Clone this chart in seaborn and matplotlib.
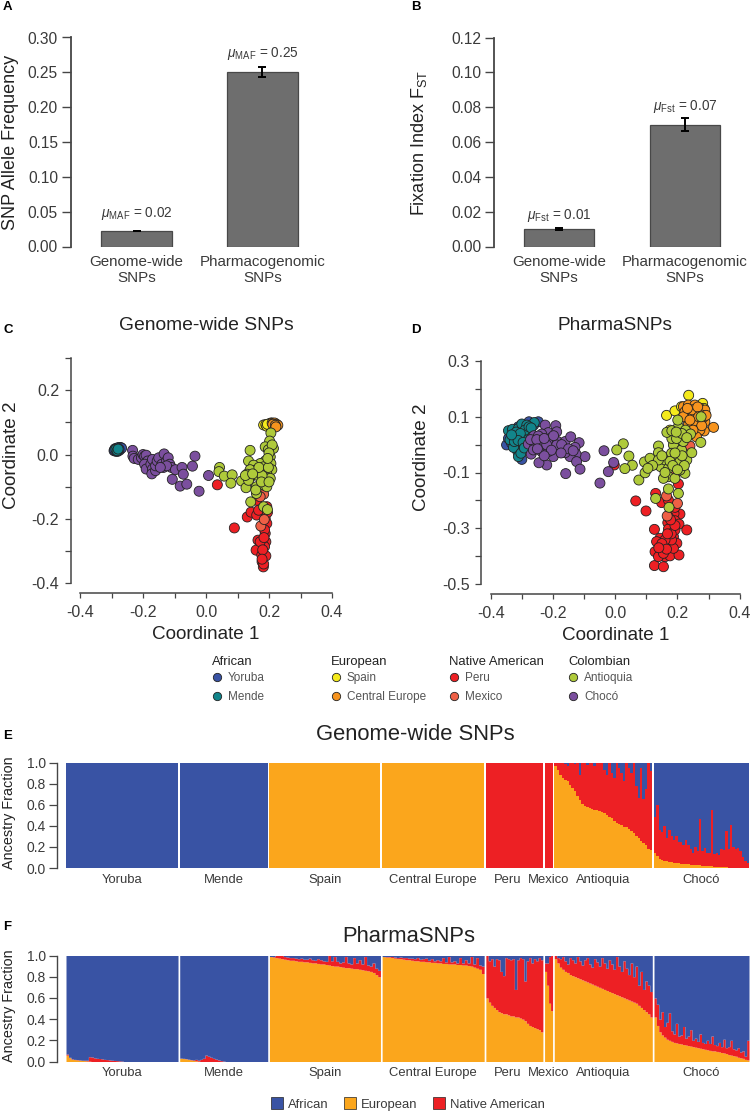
import matplotlib
matplotlib.use("Agg")
import matplotlib.pyplot as plt
import numpy as np
import pandas as pd
import seaborn as sns
from matplotlib.lines import Line2D
from matplotlib.patches import Patch

W, H = 750, 1112
TEXT = "#3a3a3a"
SPINE = "#454545"

# panels A and B
bar_labels = ["Genome-wide\nSNPs", "Pharmacogenomic\nSNPs"]
maf_means = [0.022, 0.251]
maf_errors = [0.0004, 0.0072]
maf_texts = ["0.02", "0.25"]
fst_means = [0.010, 0.070]
fst_errors = [0.0005, 0.0035]
fst_texts = ["0.01", "0.07"]

# panel C, coordinates
c_yoruba = [(-0.292, 0.012), (-0.289, 0.018), (-0.286, 0.010), (-0.283, 0.020), (-0.280, 0.010), (-0.277, 0.022),
            (-0.274, 0.014), (-0.271, 0.022), (-0.268, 0.020), (-0.290, 0.014), (-0.284, 0.015), (-0.276, 0.017)]
c_mende = [(-0.286, 0.016), (-0.282, 0.012), (-0.279, 0.017)]
c_spain = [(0.183, 0.092), (0.190, 0.093), (0.193, 0.088), (0.200, 0.092), (0.202, 0.096), (0.206, 0.098), (0.195, 0.094)]
c_ceu = [(0.210, 0.098), (0.214, 0.097), (0.218, 0.098), (0.224, 0.094), (0.228, 0.091), (0.212, 0.094), (0.220, 0.091), (0.222, 0.086)]
c_peru = [(0.036, -0.094), (0.090, -0.228), (0.131, -0.194), (0.143, -0.179), (0.161, -0.188), (0.167, -0.173),
          (0.161, -0.142), (0.193, -0.162), (0.188, -0.199), (0.193, -0.214), (0.188, -0.245), (0.165, -0.266),
          (0.190, -0.271), (0.159, -0.297), (0.186, -0.286), (0.177, -0.312), (0.190, -0.315), (0.178, -0.333),
          (0.182, -0.349), (0.172, -0.271), (0.180, -0.296), (0.183, -0.340), (0.186, -0.234), (0.195, -0.180),
          (0.178, -0.325), (0.184, -0.258)]
c_mexico = [(0.183, -0.123), (0.174, -0.222), (0.185, -0.202), (0.172, -0.131)]
c_antioquia = [(0.140, 0.013), (0.135, -0.020), (0.043, -0.040), (0.041, -0.053), (0.058, -0.067), (0.083, -0.063),
               (0.079, -0.089), (0.113, -0.082), (0.127, -0.103), (0.142, -0.147), (0.160, -0.100), (0.160, -0.121),
               (0.183, -0.162), (0.195, -0.171), (0.206, 0.067), (0.202, 0.042), (0.188, 0.024), (0.214, 0.019),
               (0.198, 0.015), (0.204, -0.007), (0.188, -0.020), (0.206, -0.028), (0.209, -0.047), (0.172, -0.028),
               (0.151, -0.033), (0.156, -0.049), (0.140, -0.047), (0.130, -0.061), (0.142, -0.069), (0.135, -0.080),
               (0.172, -0.051), (0.183, -0.038), (0.193, -0.059), (0.185, -0.069), (0.204, -0.074), (0.191, -0.090),
               (0.183, -0.095), (0.161, -0.064), (0.193, -0.100), (0.158, -0.110), (0.210, 0.030), (0.200, 0.005),
               (0.178, -0.065), (0.168, -0.040), (0.198, -0.040), (0.125, -0.065), (0.148, -0.060), (0.196, -0.012),
               (0.176, -0.085), (0.200, -0.085)]
c_choco = [(-0.233, 0.013), (-0.232, -0.005), (-0.228, -0.012), (-0.215, -0.015), (-0.205, -0.010), (-0.200, 0.000),
           (-0.195, -0.005), (-0.190, -0.002), (-0.185, -0.020), (-0.195, -0.030), (-0.190, -0.045), (-0.175, -0.030),
           (-0.170, -0.015), (-0.170, -0.045), (-0.172, -0.060), (-0.160, -0.050), (-0.160, -0.035), (-0.155, -0.020),
           (-0.150, -0.010), (-0.140, -0.030), (-0.135, -0.040), (-0.133, 0.002), (-0.125, -0.020), (-0.120, -0.010),
           (-0.115, -0.030), (-0.110, -0.040), (-0.125, -0.035), (-0.145, -0.040), (-0.097, -0.047), (-0.076, -0.040),
           (-0.035, -0.005), (-0.043, -0.036), (-0.072, -0.061), (-0.107, -0.077), (-0.082, -0.098), (-0.061, -0.092),
           (-0.022, -0.114), (0.008, -0.065)]

# panel D, coordinates
d_yoruba = [(-0.349, -0.001), (-0.277, 0.082), (-0.247, 0.082), (-0.343, 0.022), (-0.300, -0.053), (-0.322, 0.040),
            (-0.290, 0.005), (-0.311, 0.064), (-0.333, 0.005), (-0.262, 0.070)]
d_mende = [(-0.343, 0.050), (-0.330, 0.055), (-0.311, 0.058), (-0.300, 0.074), (-0.260, 0.079), (-0.284, 0.070),
           (-0.319, 0.031), (-0.338, 0.017), (-0.306, -0.001), (-0.313, -0.025), (-0.311, -0.043), (-0.327, -0.010),
           (-0.295, 0.038), (-0.290, 0.052), (-0.300, 0.022), (-0.324, 0.011), (-0.284, -0.019), (-0.303, -0.031),
           (-0.277, 0.064), (-0.318, 0.045), (-0.305, 0.040), (-0.312, 0.015), (-0.296, 0.008), (-0.292, -0.012),
           (-0.333, 0.035), (-0.270, 0.060)]
d_spain = [(0.165, 0.105), (0.192, 0.121), (0.236, 0.177), (0.281, 0.148), (0.289, 0.112), (0.176, 0.052), (0.213, 0.136),
           (0.285, 0.130), (0.272, 0.088), (0.225, 0.125)]
d_ceu = [(0.316, 0.062), (0.286, 0.049), (0.219, 0.136), (0.235, 0.142), (0.256, 0.142), (0.272, 0.130), (0.288, 0.124),
         (0.224, 0.118), (0.240, 0.112), (0.261, 0.118), (0.278, 0.106), (0.230, 0.094), (0.246, 0.082), (0.267, 0.082),
         (0.288, 0.082), (0.219, 0.100), (0.250, 0.100), (0.235, 0.070), (0.261, 0.064), (0.272, 0.052), (0.261, 0.028),
         (0.248, 0.125), (0.283, 0.098), (0.232, 0.130), (0.265, 0.135), (0.255, 0.085), (0.278, 0.068), (0.268, 0.100),
         (0.240, 0.088), (0.250, 0.052), (0.292, 0.105)]
d_peru = [(0.130, -0.175), (0.066, -0.202), (0.099, -0.238), (0.149, -0.208), (0.171, -0.199), (0.208, -0.249),
          (0.189, -0.247), (0.169, -0.280), (0.192, -0.273), (0.205, -0.285), (0.230, -0.306), (0.126, -0.304),
          (0.171, -0.303), (0.144, -0.336), (0.187, -0.330), (0.128, -0.384), (0.147, -0.369), (0.160, -0.402),
          (0.176, -0.399), (0.205, -0.396), (0.126, -0.434), (0.155, -0.438), (0.171, -0.360), (0.198, -0.354),
          (0.187, -0.372), (0.139, -0.402), (0.155, -0.390), (0.181, -0.342), (0.160, -0.342), (0.203, -0.141),
          (-0.003, -0.073), (0.192, -0.306), (0.171, -0.259), (0.133, -0.348), (0.150, -0.355), (0.165, -0.375),
          (0.180, -0.320), (0.192, -0.290), (0.178, -0.270), (0.140, -0.370), (0.168, -0.320), (0.192, -0.225)]
d_mexico = [(0.165, -0.184), (0.200, -0.211), (0.167, -0.256), (0.240, -0.005), (0.195, -0.101)]
d_antioquia = [(0.026, 0.003), (0.005, -0.019), (0.044, -0.041), (0.055, -0.074), (0.031, -0.086), (0.076, -0.127),
               (0.096, -0.101), (0.094, -0.062), (0.112, -0.049), (0.131, -0.070), (0.146, -0.079), (0.139, -0.005),
               (0.139, -0.029), (0.160, -0.055), (0.171, -0.085), (0.171, -0.115), (0.155, -0.121), (0.192, -0.121),
               (0.224, -0.103), (0.208, -0.091), (0.230, -0.055), (0.246, -0.029), (0.203, -0.007), (0.187, -0.001),
               (0.182, 0.022), (0.166, 0.044), (0.203, 0.064), (0.201, 0.088), (0.226, 0.052), (0.242, 0.038),
               (0.182, 0.050), (0.276, 0.100), (0.275, 0.008), (0.171, -0.159), (0.203, -0.175), (0.130, -0.193),
               (0.173, -0.225), (0.197, -0.055), (0.181, -0.031), (0.213, -0.019), (0.219, 0.011), (0.197, 0.022),
               (0.139, -0.055), (0.176, -0.060), (0.208, -0.061), (0.150, -0.040), (0.120, -0.075), (0.105, -0.085),
               (0.185, -0.075), (0.222, -0.075), (0.215, -0.040), (0.192, -0.030), (0.214, 0.040), (0.196, 0.045),
               (0.230, 0.025), (0.160, -0.100), (0.200, -0.090)]
d_choco = [(-0.225, 0.070), (-0.191, 0.068), (-0.215, 0.043), (-0.188, 0.046), (-0.261, 0.032), (-0.236, 0.038),
           (-0.209, 0.022), (-0.242, 0.011), (-0.279, 0.002), (-0.258, -0.001), (-0.231, -0.005), (-0.206, 0.005),
           (-0.185, 0.011), (-0.161, 0.011), (-0.143, 0.028), (-0.116, 0.007), (-0.129, -0.010), (-0.097, -0.043),
           (-0.126, -0.034), (-0.145, -0.043), (-0.161, -0.029), (-0.183, -0.019), (-0.199, -0.043), (-0.220, -0.073),
           (-0.245, -0.065), (-0.270, -0.034), (-0.263, -0.019), (-0.236, -0.025), (-0.215, -0.025), (-0.188, -0.001),
           (-0.124, -0.061), (-0.113, -0.088), (-0.159, -0.104), (-0.036, -0.022), (-0.005, -0.064), (-0.022, -0.097),
           (-0.049, -0.138), (-0.220, -0.001), (-0.247, 0.031), (-0.272, 0.018), (-0.252, 0.018), (-0.228, 0.022),
           (-0.198, 0.032), (-0.172, 0.000), (-0.150, -0.015), (-0.135, -0.022), (-0.205, -0.020), (-0.228, -0.040),
           (-0.250, -0.015), (-0.174, -0.030)]

populations = ["Yoruba", "Mende", "Spain", "Central Europe", "Peru", "Mexico", "Antioquia", "Chocó"]
pop_colors = ["#3953a4", "#12858b", "#f5ea1c", "#f7941e", "#ed2024", "#ee5f45", "#afca3a", "#7b4f9e"]
legend_groups = ["African", "European", "Native American", "Colombian"]

# ancestry columns per population: top of the European band, top of the Native American band
group_widths = [112, 88, 111, 102, 57, 8, 98, 95]
ancestries = ["African", "Native American", "European"]
ancestry_colors = ["#3953a4", "#ed2024", "#fba61c"]

e_eu = {
    "Yoruba": [0.0], "Mende": [0.0], "Spain": [0.992], "Central Europe": [0.992], "Peru": [0.0], "Mexico": [0.0],
    "Antioquia": [.97, .93, .88, .85, .83, .82, .79, .76, .73, .68, .64, .61, .59, .58, .57, .56, .55, .55, .54, .53,
                  .52, .50, .48, .47, .45, .43, .42, .41, .39, .39, .37, .35, .33, .30, .28, .26, .24, .22, .18, .17],
    "Chocó": [.14, .11, .09, .08, .07, .065, .06, .055, .05, .05, .045, .04, .04, .035, .035, .03, .03, .03, .025, .025,
              .02, .02, .02, .015, .015, .01, .01, .01, .005, .005, .005, 0, 0, 0, 0, 0, 0, 0, 0, 0],
}
e_top = {
    "Yoruba": [0.0], "Mende": [0.0], "Spain": [0.992], "Central Europe": [0.992], "Peru": [1.0], "Mexico": [1.0],
    "Antioquia": [1, 1, 1, 1, .99, .97, 1, 1, .99, 1, .88, 1, 1, .98, 1, 1, .97, 1, 1, 1,
                  .93, .88, 1, .9, .85, 1, .95, .9, .82, 1, .95, .9, 1, .78, .66, .95, .65, .75, 1, .92],
    "Chocó": [.48, .6, .36, .34, .40, .28, .36, .30, .27, .30, .25, .25, .22, .27, .22, .18, .14, .2, .16, .46,
              .16, .19, .14, .14, .55, .13, .14, .12, .18, .17, .35, .18, .41, .2, .18, .19, .16, .1, .07, .05],
}
f_eu = {
    "Yoruba": [.06, .035, .02, .018, .015, .012, .01, .008, .005, .003] + [0.0] * 35,
    "Mende": [.03, .028, .025, .02, .015, .01, .006, .003] + [0.0] * 27,
    "Spain": [.99, .985, .98, .975, .97, .965, .96, .955, .955, .95, .945, .945, .94, .94, .935, .93, .93, .925, .92, .92,
              .915, .91, .905, .90, .90, .895, .89, .885, .885, .88, .875, .875, .87, .865, .86, .855, .85, .84, .82, .80],
    "Central Europe": [.99, .985, .985, .98, .975, .97, .97, .965, .96, .96, .955, .95, .95, .945, .945, .94, .94, .935,
                       .935, .93, .93, .925, .925, .92, .92, .92, .915, .915, .91, .91, .905, .90, .89, .88, .87, .83],
    "Peru": [.60, .56, .53, .51, .49, .47, .46, .45, .45, .44, .43, .43, .42, .42, .41, .40, .385, .36, .34, .33, .32, .31, .30, .28],
    "Mexico": [.85, .72, .55, .48],
    "Antioquia": [.97, .93, .89, .87, .85, .84, .82, .81, .80, .79, .78, .77, .76, .75, .74, .73, .72, .71, .70, .69,
                  .68, .67, .66, .65, .64, .63, .62, .61, .60, .59, .58, .57, .56, .55, .53, .51, .49, .47, .45, .42],
    "Chocó": [.42, .34, .28, .25, .23, .21, .20, .19, .18, .175, .17, .165, .16, .155, .15, .145, .14, .135, .13, .125,
              .12, .115, .11, .105, .10, .10, .095, .09, .085, .08, .075, .065, .06, .055, .05, .04, .035, .03, .02, .015],
}
f_top = {
    "Yoruba": [.07, .04, .025, .02, .018, .015, .012, .012, .012, .045, .042, .035, .03, .028, .025, .02, .018, .015, .012, .01,
               .008, .006, .004] + [0.0] * 22,
    "Mende": [.032, .03, .027, .022, .018, .015, .02, .012, .02, .03, .06, .05, .04, .03, .022, .015, .008, .004] + [0.0] * 17,
    "Spain": [.99, .99, 1, 1, 1, .99, .985, .98, .98, .975, .97, .975, .965, .965, .975, .96, .955, .97, .96, .95,
              .945, 1, .95, .99, .945, .93, .94, .99, .93, .92, .98, .93, .96, .92, .99, .91, .90, .93, .88, .86],
    "Central Europe": [.99, .99, .99, .99, .985, .98, .985, .98, .98, .975, .975, .97, .98, .965, .97, .975, .955, .97,
                       .95, .96, .95, .98, .94, .99, .94, .95, .93, .98, .93, .96, .93, .99, .92, .98, .91, .90],
    "Peru": [1, .95, .97, .9, .97, .96, .85, .81, .98, .97, .96, .97, .68, .96, .98, .97, .76, .95, .98, .93, .97, .95, .98, .96],
    "Mexico": [.93, .93, .99, 1],
    "Antioquia": [1, .98, .97, .99, .95, .92, .98, .96, .93, .99, .95, .91, .96, .98, .92, .89, .97, .94, .90, .98,
                  .93, .88, .96, .92, .87, .99, .90, .85, .95, .88, .82, .93, .80, .90, .72, .85, .68, .76, .72, .66],
    "Chocó": [.60, .54, .40, .47, .33, .37, .46, .29, .26, .36, .24, .25, .33, .22, .24, .30, .2, .22, .19, .26,
              .18, .17, .2, .17, .24, .16, .15, .18, .14, .21, .13, .14, .2, .12, .11, .13, .09, .1, .05, .2],
}


def add_axes(fig, left, right, top, bottom):
    """axes placed by reference pixels"""
    return fig.add_axes([left / W, 1 - bottom / H, (right - left) / W, (bottom - top) / H])


def label_y(ax, text, x_px, y_px, size):
    ax.set_ylabel(text, fontsize=size, color="#222222")
    ax.yaxis.set_label_coords(x_px / W, 1 - y_px / H, transform=ax.figure.transFigure)


def plot_bars(ax, means, errors, texts, sub, ymax, yticks, offsets):
    sns.barplot(x=bar_labels, y=means, ax=ax, color="#6e6e6e", saturation=1, width=0.563,
                edgecolor="#484848", linewidth=0.9, errorbar=None)
    ax.errorbar([0, 1], means, yerr=errors, fmt="none", ecolor="black", elinewidth=1.4, capsize=2.6, capthick=1.4)
    for i, value in enumerate(means):
        ax.annotate(rf"$\mu_{{\mathrm{{{sub}}}}}$ = {texts[i]}", (i, value), xytext=(0, offsets[i]),
                    textcoords="offset points", ha="center", va="baseline", fontsize=9.8, color=TEXT)
    ax.set_ylim(0, ymax)
    ax.set_yticks(yticks)
    ax.set_yticklabels([f"{t:.2f}" for t in yticks])
    ax.tick_params(axis="y", length=6.5, width=1, color=SPINE, labelsize=11.2, labelcolor=TEXT, pad=2.5)
    ax.tick_params(axis="x", length=0, labelsize=10.9, labelcolor=TEXT, pad=6)
    sns.despine(ax=ax, bottom=True)
    ax.spines["left"].set_color(SPINE)
    ax.spines["left"].set_linewidth(1.3)


def plot_scatter(ax, point_sets, xticks, yticks, ylim, xlabels, ylabels, offset):
    frames = [pd.DataFrame(points, columns=["x", "y"]).assign(population=name)
              for name, points in zip(populations, point_sets)]
    sns.scatterplot(data=pd.concat(frames), x="x", y="y", hue="population", hue_order=populations,
                    palette=pop_colors, s=52, edgecolor="#222222", linewidth=0.6, legend=False,
                    ax=ax, clip_on=False)
    ax.set_xlim(-0.4, 0.4)
    ax.set_ylim(*ylim)
    ax.set_xticks(xticks)
    ax.set_xticklabels(xlabels)
    ax.set_yticks(yticks)
    ax.set_yticklabels(ylabels)
    ax.tick_params(axis="x", length=3.5, width=0.9, color=SPINE, labelsize=11.5, labelcolor=TEXT, pad=5)
    ax.tick_params(axis="y", length=4.3, width=0.9, color=SPINE, labelsize=11.5, labelcolor=TEXT, pad=4)
    sns.despine(ax=ax, offset=offset)
    for side in ["left", "bottom"]:
        ax.spines[side].set_color(SPINE)
        ax.spines[side].set_linewidth(1.1)


def ancestry_frame(eu_columns, top_columns):
    rows = []
    edges = []
    left = 0.0
    for name, width in zip(populations, group_widths):
        eu = np.array(eu_columns[name], dtype=float)
        top = np.array(top_columns[name], dtype=float)
        group_edges = np.linspace(left, left + width, len(eu) + 1)
        centers = (group_edges[:-1] + group_edges[1:]) / 2
        edges.extend(group_edges.tolist())
        rows.append(pd.DataFrame({"x": centers, "ancestry": "European", "fraction": eu}))
        rows.append(pd.DataFrame({"x": centers, "ancestry": "Native American", "fraction": top - eu}))
        rows.append(pd.DataFrame({"x": centers, "ancestry": "African", "fraction": 1 - top}))
        left += width + 1.7
    return pd.concat(rows, ignore_index=True), edges


def plot_ancestry(ax, eu_columns, top_columns):
    frame, edges = ancestry_frame(eu_columns, top_columns)
    sns.histplot(data=frame, x="x", weights="fraction", hue="ancestry", hue_order=ancestries,
                 palette=ancestry_colors, bins=edges, multiple="stack", element="step",
                 linewidth=0, alpha=1, legend=False, ax=ax)
    ax.set_xlim(edges[0], edges[-1])
    ax.set_ylim(0, 1)
    ax.set_yticks([0, 0.2, 0.4, 0.6, 0.8, 1.0])
    starts = np.cumsum([0] + [w + 1.7 for w in group_widths[:-1]])
    centers = starts + np.array(group_widths) / 2
    centers[4] -= 6.5  # Peru label sits left of its block, clear of Mexico
    ax.set_xticks(centers)
    ax.set_xticklabels(populations)
    ax.set_xlabel("")
    ax.set_ylabel("")
    ax.tick_params(axis="x", length=0, labelsize=9.4, labelcolor=TEXT, pad=4)
    ax.tick_params(axis="y", length=6, width=0.9, color=SPINE, labelsize=10, labelcolor=TEXT, pad=1.5)
    sns.despine(ax=ax, bottom=True)
    ax.spines["left"].set_position(("outward", 6.8))
    ax.spines["left"].set_color(SPINE)
    ax.spines["left"].set_linewidth(1.0)


def main():
    sns.set_theme(style="ticks")
    plt.rcParams["font.family"] = ["Liberation Sans", "DejaVu Sans"]
    plt.rcParams["mathtext.fontset"] = "custom"
    plt.rcParams["mathtext.rm"] = "Liberation Sans"
    plt.rcParams["mathtext.it"] = "Liberation Sans:italic"

    fig = plt.figure(figsize=(W / 100, H / 100), dpi=100)

    ax_a = add_axes(fig, 70.5, 330, 37.5, 246.5)
    plot_bars(ax_a, maf_means, maf_errors, maf_texts, "MAF", 0.30, [0, .05, .10, .15, .20, .25, .30], [10.5, 10.5])
    ax_a.set_xlim(-0.524, 1.536)
    label_y(ax_a, "SNP Allele Frequency", 19, 142, 13)

    ax_b = add_axes(fig, 494, 745, 37.5, 246.5)
    plot_bars(ax_b, fst_means, fst_errors, fst_texts, "Fst", 0.12, [0, .02, .04, .06, .08, .10, .12], [7.5, 10.5])
    ax_b.set_xlim(-0.516, 1.476)
    label_y(ax_b, r"Fixation Index F$_{\mathrm{ST}}$", 429, 143, 13)

    ticks_x = [-.4, -.3, -.2, -.1, 0, .1, .2, .3, .4]
    labels_x = ["-0.4", "", "-0.2", "", "0.0", "", "0.2", "", "0.4"]

    ax_c = add_axes(fig, 80, 332, 358, 583.3)
    plot_scatter(ax_c, [c_yoruba, c_mende, c_spain, c_ceu, c_peru, c_mexico, c_antioquia, c_choco],
                 ticks_x, [-.4, -.3, -.2, -.1, 0, .1, .2, .3], (-.4, .3), labels_x,
                 ["-0.4", "", "-0.2", "", "0.0", "", "0.2", ""], 6.8)
    ax_c.set_xlabel("Coordinate 1", fontsize=13.6, color="#222222", labelpad=5)
    label_y(ax_c, "Coordinate 2", 20, 455, 13.6)

    ax_d = add_axes(fig, 490.7, 739.7, 361, 584)
    plot_scatter(ax_d, [d_yoruba, d_mende, d_spain, d_ceu, d_peru, d_mexico, d_antioquia, d_choco],
                 ticks_x, [-.5, -.4, -.3, -.2, -.1, 0, .1, .2, .3], (-.5, .3), labels_x,
                 ["-0.5", "", "-0.3", "", "-0.1", "", "0.1", "", "0.3"], 7.0)
    ax_d.set_xlabel("Coordinate 1", fontsize=13.6, color="#222222", labelpad=5)
    label_y(ax_d, "Coordinate 2", 430, 457, 13.6)

    fig.text(206 / W, 1 - 325 / H, "Genome-wide SNPs", fontsize=13.9, color="#222222", ha="center", va="center")
    fig.text(615 / W, 1 - 325 / H, "PharmaSNPs", fontsize=13.7, color="#222222", ha="center", va="center")

    legend_x = [212, 331, 449, 568]
    for i, (title, x_px) in enumerate(zip(legend_groups, legend_x)):
        handles = [Line2D([], [], linestyle="none", marker="o", ms=6, mfc=pop_colors[j], mec="#222222", mew=0.6,
                          label=populations[j]) for j in (2 * i, 2 * i + 1)]
        leg = fig.legend(handles=handles, title=title, loc="upper left", bbox_to_anchor=(x_px / W, 1 - 656 / H),
                         frameon=False, fontsize=8.5, title_fontsize=9.4, alignment="left", borderpad=0,
                         borderaxespad=0, labelspacing=0.62, handlelength=0.8, handletextpad=0.55)
        leg._legend_box.sep = 3
        for text in leg.get_texts():
            text.set_color("#555555")
        leg.get_title().set_color("#222222")

    ax_e = add_axes(fig, 66, 749, 762.5, 868)
    plot_ancestry(ax_e, e_eu, e_top)
    label_y(ax_e, "Ancestry Fraction", 16, 813, 10.4)
    fig.text(415 / W, 1 - 734 / H, "Genome-wide SNPs", fontsize=15.8, color="#222222", ha="center", va="center")

    ax_f = add_axes(fig, 66, 749, 955.5, 1061.5)
    plot_ancestry(ax_f, f_eu, f_top)
    label_y(ax_f, "Ancestry Fraction", 16, 1006, 10.4)
    fig.text(409 / W, 1 - 937 / H, "PharmaSNPs", fontsize=15.8, color="#222222", ha="center", va="center")

    handles = [Patch(facecolor=ancestry_colors[i], edgecolor="#222222", linewidth=0.5, label=name)
               for i, name in [(0, "African"), (2, "European"), (1, "Native American")]]
    leg = fig.legend(handles=handles, loc="center left", bbox_to_anchor=(271 / W, 1 - 1104 / H), ncol=3,
                     frameon=False, fontsize=9.4, borderpad=0, borderaxespad=0, handlelength=0.92,
                     handleheight=0.92, handletextpad=0.4, columnspacing=1.15)
    for text in leg.get_texts():
        text.set_color(TEXT)

    for letter, x_px, y_px in [("A", 3, 7), ("B", 411, 7), ("C", 3, 330), ("D", 411, 330), ("E", 3, 736), ("F", 3, 927)]:
        fig.text(x_px / W, 1 - y_px / H, letter, fontsize=9.5, fontweight="bold", color="black", ha="left", va="center")

    fig.savefig("out.png", dpi=100)


main()
